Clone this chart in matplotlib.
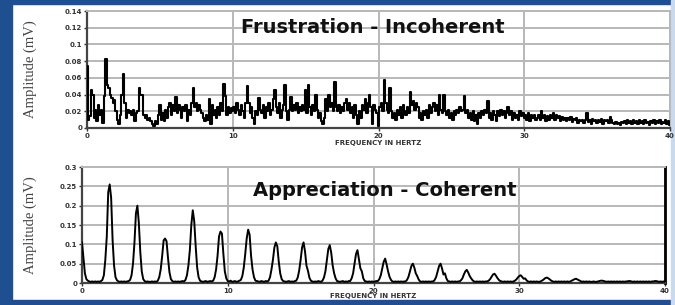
import matplotlib.pyplot as plt
import matplotlib.patches as mpatches
import numpy as np

# frequency grid, 0.1 Hz steps from 0 to 40 Hz
freq = np.arange(401) / 10.0

# Frustration - Incoherent amplitudes (x 0.001 mV), one row per Hz
incoherent = [
    74, 10, 14, 45, 40, 12, 22, 8, 28, 15,
    22, 6, 38, 83, 52, 48, 40, 36, 30, 34,
    20, 10, 5, 15, 40, 65, 30, 12, 22, 18,
    20, 15, 22, 8, 18, 20, 48, 40, 40, 15,
    12, 15, 10, 12, 8, 5, 2, 8, 5, 15,
    28, 10, 18, 8, 22, 12, 25, 30, 15, 28,
    20, 37, 18, 28, 22, 12, 25, 20, 28, 8,
    22, 15, 30, 48, 25, 30, 20, 27, 22, 18,
    12, 8, 15, 10, 35, 5, 28, 15, 22, 12,
    25, 15, 30, 20, 53, 38, 15, 25, 18, 24,
    20, 25, 18, 30, 22, 15, 28, 20, 12, 30,
    50, 30, 18, 25, 12, 5, 20, 15, 36, 22,
    18, 28, 12, 25, 20, 30, 15, 22, 35, 45,
    25, 18, 30, 12, 22, 28, 52, 20, 10, 22,
    37, 20, 28, 22, 30, 18, 25, 20, 28, 22,
    45, 18, 51, 25, 15, 28, 20, 40, 22, 12,
    18, 8, 5, 12, 35, 20, 40, 25, 30, 20,
    55, 25, 20, 28, 18, 25, 20, 30, 35, 22,
    30, 18, 25, 12, 28, 15, 5, 20, 12, 28,
    22, 35, 18, 30, 40, 25, 5, 28, 22, 18,
    2, 25, 30, 20, 57, 30, 22, 18, 48, 20,
    12, 18, 10, 22, 15, 25, 12, 28, 20, 15,
    25, 18, 43, 28, 32, 22, 30, 25, 12, 18,
    10, 20, 15, 22, 12, 28, 18, 25, 30, 20,
    28, 15, 40, 22, 18, 40, 20, 15, 22, 12,
    18, 10, 20, 15, 22, 18, 25, 20, 22, 38,
    18, 22, 12, 18, 10, 20, 8, 15, 5, 18,
    12, 20, 15, 22, 18, 32, 12, 18, 10, 20,
    15, 8, 20, 14, 22, 15, 20, 12, 18, 25,
    15, 20, 10, 18, 12, 16, 10, 20, 14, 18,
    12, 15, 10, 18, 8, 15, 12, 16, 10, 12,
    15, 10, 20, 12, 15, 8, 14, 10, 16, 12,
    18, 10, 15, 12, 14, 8, 13, 10, 12, 8,
    12, 9, 13, 7, 11, 9, 12, 6, 10, 8,
    10, 6, 9, 18, 7, 10, 5, 11, 8, 10,
    6, 9, 7, 11, 5, 9, 8, 10, 6, 13,
    9, 6, 5, 7, 5, 6, 4, 7, 6, 8,
    5, 9, 6, 8, 5, 10, 6, 8, 5, 9,
    6, 8, 5, 9, 6, 7, 4, 8, 6, 9,
    5, 8, 6, 9, 5, 7, 6, 10, 5, 8,
    3,
]

# Appreciation - Coherent amplitudes (x 0.001 mV), one row per Hz
coherent = [
    105, 65, 25, 10, 6, 4, 3, 4, 3, 4,
    3, 4, 3, 5, 8, 20, 60, 120, 235, 255,
    220, 110, 45, 15, 7, 4, 3, 4, 3, 4,
    3, 4, 5, 8, 20, 50, 105, 180, 200, 155,
    80, 30, 10, 5, 3, 4, 3, 3, 4, 3,
    4, 3, 6, 15, 35, 70, 110, 115, 108, 65,
    28, 10, 5, 3, 4, 3, 4, 3, 4, 5,
    4, 8, 20, 45, 85, 150, 188, 160, 95, 40,
    15, 6, 4, 3, 4, 5, 3, 4, 5, 4,
    6, 15, 35, 70, 120, 133, 128, 75, 30, 12,
    5, 4, 6, 3, 4, 5, 3, 4, 6, 8,
    18, 40, 75, 115, 138, 125, 70, 35, 15, 6,
    5, 4, 3, 5, 4, 3, 5, 4, 6, 15,
    35, 60, 92, 105, 95, 55, 25, 10, 5, 4,
    3, 4, 5, 3, 4, 3, 5, 6, 14, 32,
    60, 92, 105, 82, 45, 32, 14, 6, 4, 3,
    4, 3, 5, 4, 3, 6, 14, 30, 60, 88,
    98, 78, 45, 25, 12, 5, 4, 3, 4, 5,
    3, 4, 3, 5, 5, 12, 25, 50, 75, 85,
    62, 38, 30, 12, 5, 4, 3, 4, 3, 4,
    3, 4, 5, 5, 10, 20, 38, 55, 63, 48,
    30, 16, 8, 4, 3, 4, 3, 4, 3, 4,
    3, 4, 4, 8, 16, 30, 44, 50, 40, 25,
    18, 9, 4, 3, 4, 3, 4, 3, 4, 3,
    4, 4, 8, 16, 30, 44, 50, 38, 22, 25,
    12, 5, 4, 3, 4, 3, 4, 3, 4, 4,
    7, 12, 22, 30, 34, 27, 18, 12, 7, 4,
    3, 4, 3, 4, 3, 4, 3, 4, 4, 6,
    10, 16, 22, 24, 19, 13, 8, 5, 4, 3,
    4, 3, 4, 3, 4, 3, 4, 6, 9, 14,
    18, 20, 16, 11, 12, 7, 4, 3, 4, 3,
    4, 3, 4, 3, 3, 5, 7, 10, 13, 14,
    12, 9, 6, 4, 3, 4, 3, 4, 3, 4,
    3, 4, 3, 4, 3, 4, 6, 8, 10, 11,
    9, 7, 5, 3, 4, 3, 4, 3, 4, 3,
    3, 4, 3, 3, 4, 5, 6, 6, 5, 4,
    3, 4, 3, 4, 3, 4, 3, 4, 3, 4,
    3, 4, 3, 4, 4, 5, 5, 4, 3, 4,
    3, 4, 3, 4, 3, 4, 3, 4, 3, 4,
    3, 4, 4, 5, 5, 4, 3, 4, 3, 4,
    3,
]

titles = ['Frustration - Incoherent', 'Appreciation - Coherent']
y_max = [0.14, 0.3]
y_step = [0.02, 0.05]
x_ticks = [0, 10, 20, 30, 40]

W, H = 675, 305
fig = plt.figure(figsize=(W / 100, H / 100), dpi=100)
fig.patch.set_facecolor('white')

# blue frame
dark = '#1d4f91'
fig.patches.append(mpatches.Rectangle((0, 0), 12 / W, 1, transform=fig.transFigure, color=dark, zorder=-5))
fig.patches.append(mpatches.Rectangle((0, 1 - 4 / H), 1, 4 / H, transform=fig.transFigure, color=dark, zorder=-5))
fig.patches.append(mpatches.Rectangle((0, 0), 1, 5 / H, transform=fig.transFigure, color=dark, zorder=-5))
fig.patches.append(mpatches.Rectangle((1 - 4 / W, 0), 4 / W, 1, transform=fig.transFigure, color='#c9d9ee', zorder=-5))

ax1 = fig.add_axes([87 / W, 1 - 128 / H, 583 / W, 117 / H])
ax2 = fig.add_axes([82 / W, 1 - 283 / H, 583 / W, 116 / H])

ax1.plot(freq, np.array(incoherent) / 1000, color='black', lw=1.5, drawstyle='steps-mid', zorder=3)
ax2.plot(freq, np.array(coherent) / 1000, color='black', lw=1.4, zorder=3)

title_pos = [(0.49, 0.86), (0.52, 0.80)]
ylab_x = [-0.086, -0.077]
xlab_y = [-0.128, -0.115]
for i, ax in enumerate([ax1, ax2]):
    ax.set_xlim(0, 40)
    ax.set_ylim(0, y_max[i])
    ax.set_xticks(x_ticks)
    yt = np.round(np.arange(0, y_max[i] + 1e-9, y_step[i]), 3)
    ax.set_yticks(yt)
    ax.set_yticklabels(['%g' % v for v in yt])
    ax.grid(True, color='#b8b8b8', lw=1.4, zorder=0)
    ax.tick_params(labelsize=5, colors='#333333', length=2.5, width=1, pad=1)
    for lab in ax.get_xticklabels() + ax.get_yticklabels():
        lab.set_fontweight('bold')
    ax.spines['left'].set_color('#444444')
    ax.spines['left'].set_linewidth(1.6)
    ax.spines['bottom'].set_color('#444444')
    ax.spines['bottom'].set_linewidth(1.6)
    ax.spines['top'].set_color('#b8b8b8')
    ax.spines['top'].set_linewidth(1.4)
    ax.spines['right'].set_color('#b8b8b8')
    ax.spines['right'].set_linewidth(1.4)
    ax.set_xlabel('FREQUENCY IN HERTZ', fontsize=5, fontweight='bold', color='#333333', va='center')
    ax.xaxis.set_label_coords(0.5, xlab_y[i])
    ax.set_ylabel('Amplitude (mV)', fontsize=10.5, family='Liberation Serif', color='#444444')
    ax.yaxis.set_label_coords(ylab_x[i], 0.5)
    ax.text(title_pos[i][0], title_pos[i][1], titles[i], transform=ax.transAxes, ha='center', va='center',
            fontsize=14, fontweight='bold', family='DejaVu Sans', color='#111111', zorder=4)

ax2.spines['right'].set_color('black')
ax2.spines['right'].set_linewidth(2)

fig.savefig('out.png', dpi=100)
